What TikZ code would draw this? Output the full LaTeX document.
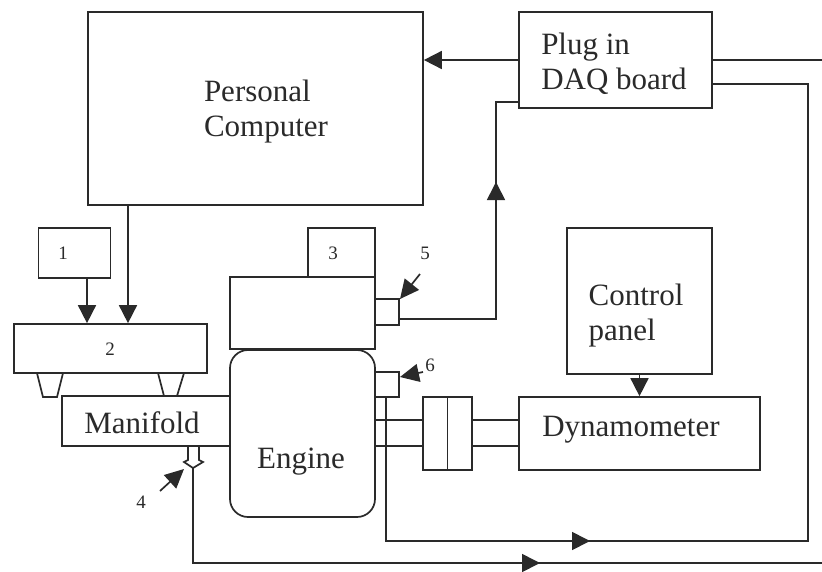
\documentclass[tikz,border=0pt]{standalone}
\usepackage{fontspec}
\setmainfont{Liberation Serif}
\usetikzlibrary{arrows.meta}
\definecolor{ink}{HTML}{2A2A2A}
\begin{document}
\begin{tikzpicture}[x=1pt,y=-1pt,line width=1.7pt,draw=ink,
  box/.style={draw=ink,inner sep=0pt,minimum width=#1},
  arr/.style={-{Triangle[length=18pt,width=18pt]}},
  parr/.style={-{Triangle[length=19pt,width=18pt]}},
  big/.style={text=ink,inner sep=0pt,font=\fontsize{31}{35}\selectfont,align=left},
  small/.style={text=ink,inner sep=1pt,font=\fontsize{19}{22}\selectfont}]
\useasboundingbox[fill=white] (0,0) rectangle (822,571);
% boxes
\node[box=335pt,minimum height=193pt] (PC) at (255.5,108.5) {};
\node[box=193pt,minimum height=96pt] (DAQ) at (615.5,60) {};
\node[box=72pt,minimum height=50pt] (B1) at (74.5,253) {};
\node[box=193pt,minimum height=49pt] (B2) at (110.5,348.5) {};
\node[box=168pt,minimum height=50pt] (Man) at (146,421) {};
\node[box=145pt,minimum height=72pt] (Head) at (302.5,313) {};
\node[box=67pt,minimum height=49pt] (B3) at (341.5,252.5) {};
\node[box=145pt,minimum height=167pt,rounded corners=18pt,fill=white] (Eng) at (302.5,433.5) {};
\node[box=24pt,minimum height=26pt] (S5) at (387,312) {};
\node[box=24pt,minimum height=25pt] (S6) at (387,384.5) {};
\node[box=49pt,minimum height=73pt] (Coup) at (447.5,433.5) {};
\node[box=241pt,minimum height=73pt] (Dyn) at (639.5,433.5) {};
\node[box=145pt,minimum height=146pt] (CP) at (639.5,301) {};
% texts
\node[big] (tPC) at (266,112) {Personal\\Computer};
\node[big] (tDAQ) at (614,64) {Plug in\\DAQ board};
\node[big] (tCP) at (636,316) {Control\\panel};
\node[big] (tDyn) at (631,430) {Dynamometer};
\node[big] (tMan) at (142,423) {Manifold};
\node[big] (tEng) at (301,462) {Engine};
\node[small] (t1) at (63,253) {1};
\node[small] (t2) at (110,349) {2};
\node[small] (t3) at (333,253) {3};
\node[small] (t4) at (141,502) {4};
\node[small] (t5) at (425,253) {5};
\node[small] (t6) at (430,365) {6};
% manifold legs
\draw (37,373) -- (43,397) -- (57,397) -- (63,373);
\draw (158,373) -- (164,396) (177,396) -- (184,373);
% sensor 4
\draw (188,446) -- (188,460) -- (184,462) -- (193,468) -- (203,462) -- (199,460) -- (199,446);
% helper coordinates
\coordinate (x87) at (87,0);
\coordinate (x128) at (128,0);
\coordinate (ya) at (0,420);
\coordinate (yb) at (0,446);
\coordinate (r1) at (822,60);
\coordinate (c1) at (808,84);
\coordinate (c2) at (808,541);
\coordinate (c3) at (386,541);
\coordinate (m1) at (590,541);
\coordinate (s4) at (193,468);
\coordinate (d1) at (193,563);
\coordinate (m2) at (540,563);
\coordinate (r2) at (822,563);
\coordinate (u1) at (496,319);
\coordinate (u2) at (496,102);
\coordinate (mu) at (496,182);
\coordinate (a4) at (160,491);
\coordinate (h4) at (184,469);
\coordinate (a5) at (420,274);
\coordinate (h5) at (400,299);
\coordinate (a6) at (423,372);
\coordinate (h6) at (400,377);
% connectors
\draw[arr] (DAQ.west) -- (DAQ.west -| PC.east);
\draw (DAQ.east) -- (r1);
\draw (DAQ.east |- c1) -- (c1) -- (c2) -- (c3) -- (c3 |- S6.south);
\draw[arr] (c3) -- (m1);
\draw (s4) -- (d1) -- (r2);
\draw[arr] (d1) -- (m2);
\draw (S5.east |- u1) -- (u1) -- (u2) -- (u2 -| DAQ.west);
\draw[arr] (u1) -- (mu);
\draw[arr] (B1.south -| x87) -- (B2.north -| x87);
\draw[arr] (PC.south -| x128) -- (B2.north -| x128);
\draw[arr] (CP.south) -- (CP.south |- Dyn.north);
\draw (Eng.east |- ya) -- (Coup.west |- ya);
\draw (Eng.east |- yb) -- (Coup.west |- yb);
\draw (Coup.east |- ya) -- (Dyn.west |- ya);
\draw (Coup.east |- yb) -- (Dyn.west |- yb);
\draw (Coup.north) -- (Coup.south);
\draw[parr] (a4) -- (h4);
\draw[parr] (a5) -- (h5);
\draw[parr] (a6) -- (h6);
\end{tikzpicture}
\end{document}
